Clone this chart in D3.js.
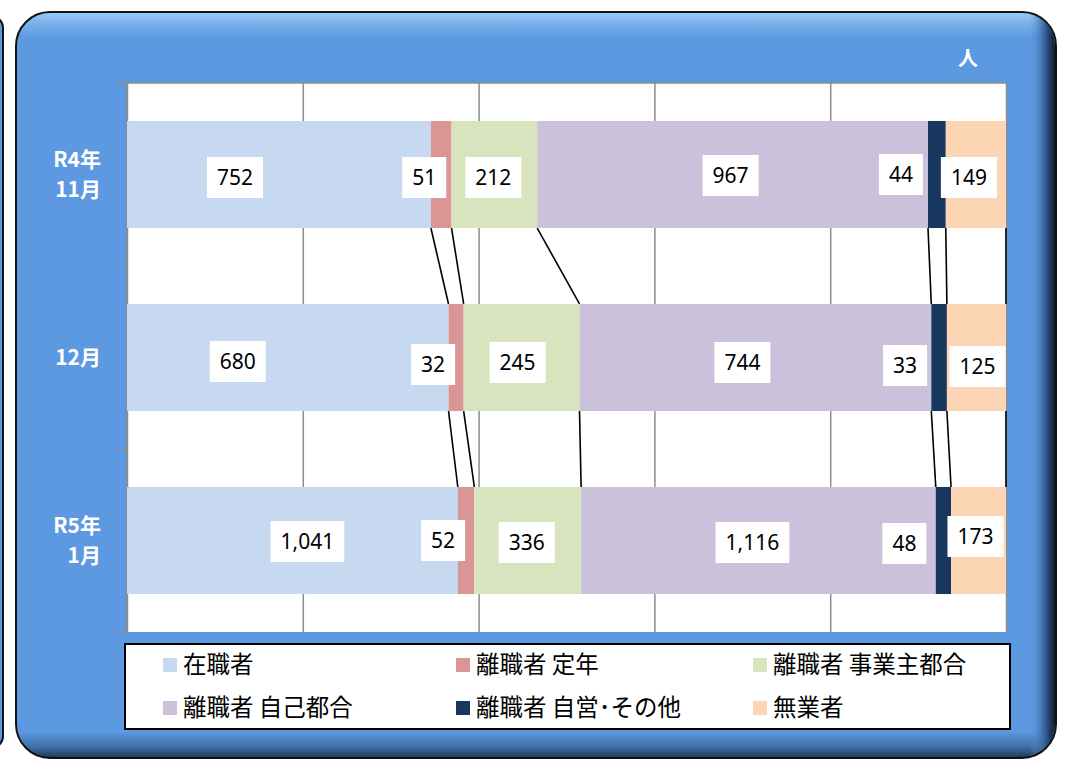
<!DOCTYPE html>
<html>
<head>
<meta charset="utf-8">
<script src="https://cdn.jsdelivr.net/npm/d3@7"></script>
<style>
  body { margin: 0; background: #fff; }
  svg { display: block; }
</style>
</head>
<body>
<script>
// data
var categories = ['R4年\n11月', '12月', 'R5年\n1月'];
var seriesNames = ['在職者', '離職者 定年', '離職者 事業主都合', '離職者 自己都合', '離職者 自営･その他', '無業者'];
var seriesColors = ['#C6D9F1', '#D99694', '#D7E4BD', '#CCC1DA', '#17375E', '#FCD5B5'];
var zaishoku = [752, 680, 1041];
var teinen = [51, 32, 52];
var jigyounushi = [212, 245, 336];
var jiko = [967, 744, 1116];
var jiei = [44, 33, 48];
var mugyou = [149, 125, 173];
var unitLabel = '人';

// label nudges (layout only)
var labelDx = [[-44, -17, -1, -2, -36, -7], [-50, -23, -4, -13, -34, 1], [15, -23, -1, -6, -39, -3]];
var labelDy = [[3, 3, 3, 1, 0, 3], [4, 7, 5, 5, 8, 9], [1, 0, 2, 2, 3, -4]];

var allSeries = [zaishoku, teinen, jigyounushi, jiko, jiei, mugyou];

var width = 1069, height = 761;
var svg = d3.select('body').append('svg').attr('width', width).attr('height', height);

var defs = svg.append('defs');
var g1 = defs.append('linearGradient').attr('id', 'frameFill').attr('x1', 0).attr('y1', 0).attr('x2', 0).attr('y2', 1);
g1.append('stop').attr('offset', 0).attr('stop-color', '#9ccbf6');
g1.append('stop').attr('offset', 0.018).attr('stop-color', '#74ade9');
g1.append('stop').attr('offset', 0.035).attr('stop-color', '#5c99e0');
g1.append('stop').attr('offset', 0.965).attr('stop-color', '#5c99e0');
g1.append('stop').attr('offset', 0.985).attr('stop-color', '#3f6fa6');
g1.append('stop').attr('offset', 1).attr('stop-color', '#1d3556');
var g2 = defs.append('linearGradient').attr('id', 'rightShade').attr('x1', 0).attr('y1', 0).attr('x2', 1).attr('y2', 0);
g2.append('stop').attr('offset', 0).attr('stop-color', '#5c99e0').attr('stop-opacity', 0);
g2.append('stop').attr('offset', 0.975).attr('stop-color', '#5c99e0').attr('stop-opacity', 0);
g2.append('stop').attr('offset', 0.992).attr('stop-color', '#2d5486').attr('stop-opacity', 1);
g2.append('stop').attr('offset', 1).attr('stop-color', '#0e1a2b').attr('stop-opacity', 1);

// neighbouring panel edge on the left
svg.append('rect').attr('x', -40).attr('y', 16).attr('width', 43).attr('height', 732)
  .attr('rx', 12).attr('fill', '#5c99e0').attr('stroke', '#111').attr('stroke-width', 2);

// frame
svg.append('rect').attr('x', 16).attr('y', 12).attr('width', 1040).attr('height', 746)
  .attr('rx', 34).attr('fill', 'url(#frameFill)').attr('stroke', '#111').attr('stroke-width', 2);
svg.append('rect').attr('x', 17).attr('y', 13).attr('width', 1038).attr('height', 744)
  .attr('rx', 33).attr('fill', 'url(#rightShade)');

var plot = { left: 127, right: 1006, top: 83, bottom: 632 };

var x = d3.scaleLinear().domain([0, 1]).range([plot.left, plot.right]);
var y = d3.scaleBand().domain(categories).range([plot.top, plot.bottom])
  .paddingInner(0.415).paddingOuter(0.2075);

svg.append('rect').attr('x', plot.left).attr('y', plot.top)
  .attr('width', plot.right - plot.left).attr('height', plot.bottom - plot.top)
  .attr('fill', '#fff');

// gridlines
var xAxis = d3.axisTop(x).tickValues([0, 0.2, 0.4, 0.6, 0.8, 1])
  .tickSize(-(plot.bottom - plot.top)).tickFormat('');
var gx = svg.append('g').attr('transform', 'translate(0,' + plot.top + ')').call(xAxis);
gx.select('.domain').remove();
gx.selectAll('line').attr('stroke', '#8c8c8c').attr('stroke-width', 1.5);

// top border line
svg.append('line').attr('x1', plot.left - 7).attr('x2', plot.right)
  .attr('y1', plot.top).attr('y2', plot.top).attr('stroke', '#8c8c8c').attr('stroke-width', 1.5);

// category axis
var boundaries = [plot.top].concat(categories.map(function(c) { return y(c) + y.bandwidth() + y.step() * y.paddingInner() / 2; }));
boundaries[boundaries.length - 1] = plot.bottom;
svg.append('line').attr('x1', plot.left).attr('x2', plot.left)
  .attr('y1', plot.top).attr('y2', plot.bottom).attr('stroke', '#8c8c8c').attr('stroke-width', 1.5);
svg.selectAll('.ytick').data(boundaries).enter().append('line')
  .attr('x1', plot.left - 8).attr('x2', plot.left)
  .attr('y1', function(d) { return d; }).attr('y2', function(d) { return d; })
  .attr('stroke', '#8c8c8c').attr('stroke-width', 1.5);

// stacked shares
var rows = categories.map(function(c, i) {
  var total = d3.sum(allSeries, function(s) { return s[i]; });
  var acc = 0;
  return allSeries.map(function(s, j) {
    var start = acc / total;
    acc += s[i];
    return { cat: c, ci: i, si: j, value: s[i], x0: start, x1: acc / total };
  });
});

// series lines
for (var i = 0; i < rows.length - 1; i++) {
  rows[i].forEach(function(seg, j) {
    var next = rows[i + 1][j];
    svg.append('line')
      .attr('x1', x(seg.x1)).attr('y1', y(seg.cat) + y.bandwidth())
      .attr('x2', x(next.x1)).attr('y2', y(next.cat))
      .attr('stroke', '#000').attr('stroke-width', 1.6);
  });
}

var segs = d3.merge(rows);
svg.selectAll('.bar').data(segs).enter().append('rect')
  .attr('x', function(d) { return x(d.x0); })
  .attr('width', function(d) { return x(d.x1) - x(d.x0); })
  .attr('y', function(d) { return y(d.cat); })
  .attr('height', y.bandwidth())
  .attr('fill', function(d) { return seriesColors[d.si]; });

// data labels
var fmt = d3.format(',');
var lab = svg.selectAll('.lab').data(segs).enter().append('g')
  .attr('transform', function(d) {
    var cx = (x(d.x0) + x(d.x1)) / 2 + labelDx[d.ci][d.si];
    var cy = y(d.cat) + y.bandwidth() / 2 + labelDy[d.ci][d.si];
    return 'translate(' + cx + ',' + cy + ')';
  });
lab.append('text')
  .attr('text-anchor', 'middle').attr('dy', '0.36em')
  .style('font-family', '"Noto Sans", "Open Sans", sans-serif').style('font-size', '21px')
  .attr('fill', '#000')
  .text(function(d) { return fmt(d.value); });
lab.each(function() {
  var g = d3.select(this);
  var bb = g.select('text').node().getBBox();
  g.insert('rect', 'text').attr('x', bb.x - 10).attr('y', -20.5)
    .attr('width', bb.width + 20).attr('height', 41).attr('fill', '#fff');
});

// category labels
categories.forEach(function(c) {
  var lines = c.split('\n');
  var cy = y(c) + y.bandwidth() / 2;
  var t = svg.append('text').attr('text-anchor', 'end')
    .style('font-family', '"Noto Sans CJK JP", sans-serif').style('font-size', '21px')
    .style('font-weight', 'bold').attr('fill', '#fff');
  lines.forEach(function(l, k) {
    t.append('tspan').attr('x', 101)
      .attr('y', cy + (k - (lines.length - 1) / 2) * 30 + 7).text(l);
  });
});

// unit
svg.append('text').attr('x', 968).attr('y', 66).attr('text-anchor', 'middle')
  .style('font-family', '"Noto Sans CJK JP", sans-serif').style('font-size', '20px')
  .style('font-weight', 'bold').attr('fill', '#fff').text(unitLabel);

// legend
svg.append('rect').attr('x', 125).attr('y', 644).attr('width', 885).attr('height', 85)
  .attr('fill', '#fff').attr('stroke', '#000').attr('stroke-width', 2);
var legX = [163, 456, 753];
var legY = [665, 708];
var leg = svg.selectAll('.leg').data(seriesNames).enter().append('g')
  .attr('transform', function(d, i) { return 'translate(' + legX[i % 3] + ',' + legY[Math.floor(i / 3)] + ')'; });
leg.append('rect').attr('x', 0).attr('y', -7).attr('width', 14).attr('height', 14)
  .attr('fill', function(d, i) { return seriesColors[i]; });
leg.append('text').attr('x', 20).attr('dy', '0.36em')
  .style('font-family', '"Noto Sans CJK JP", sans-serif').style('font-size', '23.5px')
  .attr('fill', '#000').text(function(d) { return d; });
</script>
</body>
</html>
